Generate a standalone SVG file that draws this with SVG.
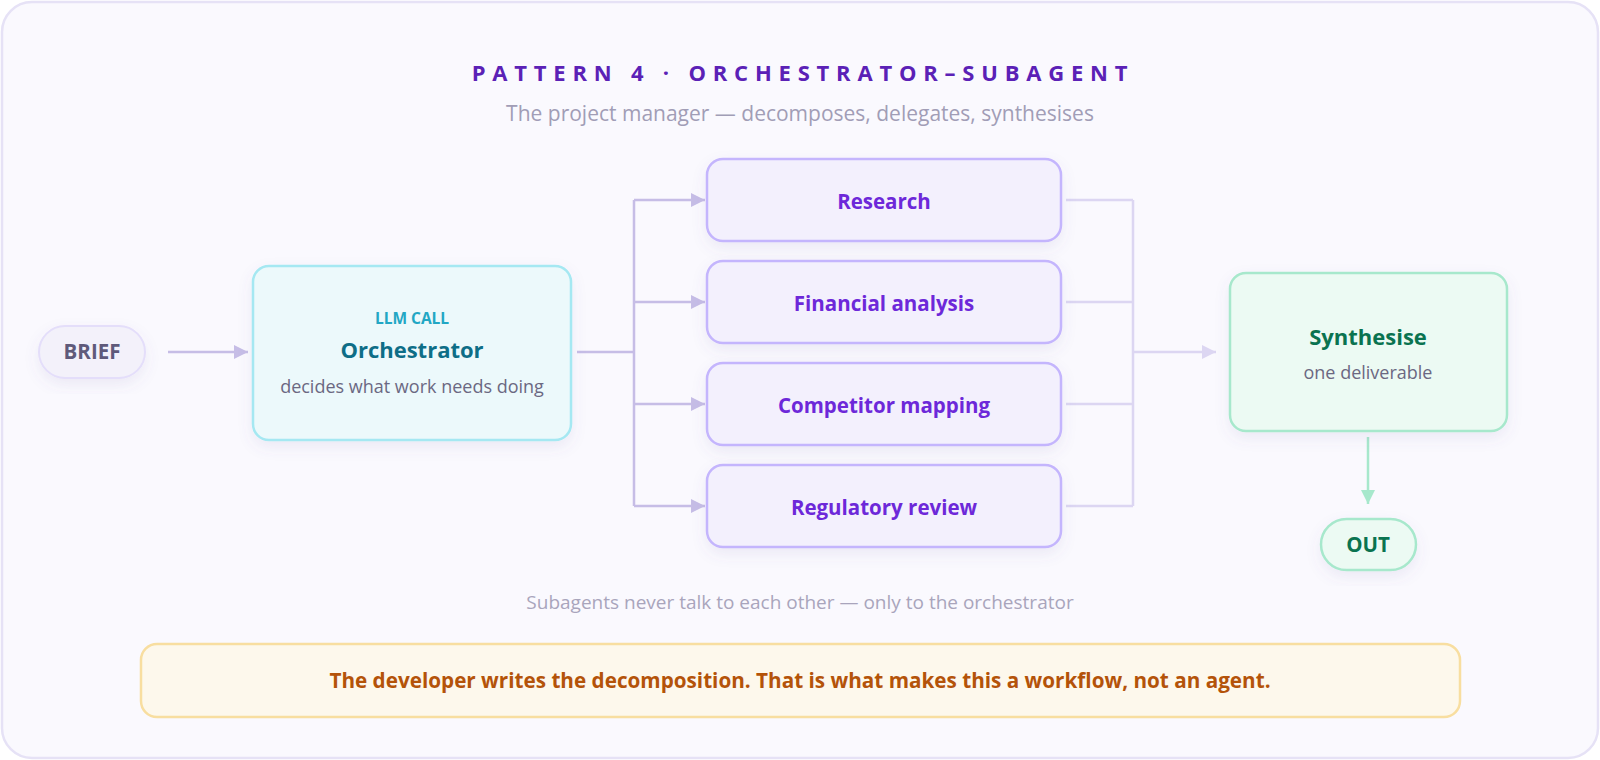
<svg xmlns="http://www.w3.org/2000/svg" width="1600" height="760" viewBox="0 0 1600 760">
  <defs>
    <style>
      text { font-family: "Open Sans", "Noto Sans", "DejaVu Sans", sans-serif; text-anchor: middle; }
      .title { font-size: 22px; font-weight: 700; fill: #5b21b6; letter-spacing: 6.8px; }
      .subtitle { font-size: 21px; fill: #a19db6; }
      .caption { font-size: 19px; fill: #a9a5bc; }
      .pill-brief { fill: #f3f1fa; stroke: #e4defa; stroke-width: 2; }
      .pill-out { fill: #ecfaf3; stroke: #a7e8cc; stroke-width: 2.5; }
      .orch { fill: #ecf9fb; stroke: #a5e8f2; stroke-width: 2.5; }
      .sub { fill: #f3f0fd; stroke: #c4b5fd; stroke-width: 2.5; }
      .synth { fill: #ecfaf3; stroke: #a7e8cc; stroke-width: 2.5; }
      .note { fill: #fdf8ec; stroke: #f8dea0; stroke-width: 2.5; }
      .t-brief { font-size: 20.5px; font-weight: 700; fill: #5f5a7a; }
      .t-out { font-size: 20.5px; font-weight: 700; fill: #0a7350; }
      .t-kicker { font-size: 15.5px; font-weight: 700; fill: #22a7c4; }
      .t-orch { font-size: 22px; font-weight: 700; fill: #0e6e87; }
      .t-synth { font-size: 22px; font-weight: 700; fill: #0a7350; }
      .t-desc { font-size: 18px; fill: #6b6882; }
      .t-sub { font-size: 20.5px; font-weight: 700; fill: #6d28d9; }
      .t-note { font-size: 20.7px; font-weight: 700; fill: #b45309; }
      .c-in { fill: none; stroke: #c6bde6; stroke-width: 2.5; }
      .c-out { fill: none; stroke: #dcd6f2; stroke-width: 2.5; }
      .c-green { fill: none; stroke: #a7e8cc; stroke-width: 2.5; }
    </style>
    <filter id="shadow" x="-20%" y="-20%" width="140%" height="150%">
      <feDropShadow dx="0" dy="6" stdDeviation="7" flood-color="#6b5fa8" flood-opacity="0.10"/>
    </filter>
    <marker id="arrIn" viewBox="0 0 10 10" refX="10" refY="5" markerWidth="14" markerHeight="14" markerUnits="userSpaceOnUse" orient="auto">
      <path d="M0,0 L10,5 L0,10 z" fill="#c6bde6"/>
    </marker>
    <marker id="arrOut" viewBox="0 0 10 10" refX="10" refY="5" markerWidth="14" markerHeight="14" markerUnits="userSpaceOnUse" orient="auto">
      <path d="M0,0 L10,5 L0,10 z" fill="#dcd6f2"/>
    </marker>
    <marker id="arrGreen" viewBox="0 0 10 10" refX="10" refY="5" markerWidth="14" markerHeight="14" markerUnits="userSpaceOnUse" orient="auto">
      <path d="M0,0 L10,5 L0,10 z" fill="#a7e8cc"/>
    </marker>
  </defs>

  <rect x="2" y="2" width="1596" height="756" rx="30" fill="#faf9fe" stroke="#e6e2f6" stroke-width="2.5"/>

  <text class="title" x="803" y="81">PATTERN 4 · ORCHESTRATOR–SUBAGENT</text>
  <text class="subtitle" x="800" y="121">The project manager — decomposes, delegates, synthesises</text>

  <g id="connectors">
    <line class="c-in" x1="168" y1="352" x2="248" y2="352" marker-end="url(#arrIn)"/>
    <path class="c-in" d="M577,352 H634"/>
    <path class="c-in" d="M634,200 V506"/>
    <line class="c-in" x1="634" y1="200" x2="705" y2="200" marker-end="url(#arrIn)"/>
    <line class="c-in" x1="634" y1="302" x2="705" y2="302" marker-end="url(#arrIn)"/>
    <line class="c-in" x1="634" y1="404" x2="705" y2="404" marker-end="url(#arrIn)"/>
    <line class="c-in" x1="634" y1="506" x2="705" y2="506" marker-end="url(#arrIn)"/>
    <path class="c-out" d="M1066,200 H1133 M1066,302 H1133 M1066,404 H1133 M1066,506 H1133 M1133,200 V506"/>
    <line class="c-out" x1="1133" y1="352" x2="1216" y2="352" marker-end="url(#arrOut)"/>
    <line class="c-green" x1="1368" y1="437" x2="1368" y2="504" marker-end="url(#arrGreen)"/>
  </g>

  <g id="brief">
    <rect class="pill-brief" x="39" y="326" width="106" height="52" rx="26" filter="url(#shadow)"/>
    <text class="t-brief" x="92" y="359">BRIEF</text>
  </g>

  <g id="orchestrator">
    <rect class="orch" x="253" y="266" width="318" height="174" rx="16" filter="url(#shadow)"/>
    <text class="t-kicker" x="412" y="324">LLM CALL</text>
    <text class="t-orch" x="412" y="358">Orchestrator</text>
    <text class="t-desc" x="412" y="393">decides what work needs doing</text>
  </g>

  <g id="research">
    <rect class="sub" x="707" y="159" width="354" height="82" rx="16" filter="url(#shadow)"/>
    <text class="t-sub" x="884" y="209">Research</text>
  </g>
  <g id="financial">
    <rect class="sub" x="707" y="261" width="354" height="82" rx="16" filter="url(#shadow)"/>
    <text class="t-sub" x="884" y="311">Financial analysis</text>
  </g>
  <g id="competitor">
    <rect class="sub" x="707" y="363" width="354" height="82" rx="16" filter="url(#shadow)"/>
    <text class="t-sub" x="884" y="413">Competitor mapping</text>
  </g>
  <g id="regulatory">
    <rect class="sub" x="707" y="465" width="354" height="82" rx="16" filter="url(#shadow)"/>
    <text class="t-sub" x="884" y="515">Regulatory review</text>
  </g>

  <g id="synthesise">
    <rect class="synth" x="1230" y="273" width="277" height="158" rx="16" filter="url(#shadow)"/>
    <text class="t-synth" x="1368" y="345">Synthesise</text>
    <text class="t-desc" x="1368" y="379">one deliverable</text>
  </g>

  <g id="out">
    <rect class="pill-out" x="1321" y="519" width="95" height="51" rx="25.5" filter="url(#shadow)"/>
    <text class="t-out" x="1368" y="552">OUT</text>
  </g>

  <text class="caption" x="800" y="609">Subagents never talk to each other — only to the orchestrator</text>

  <g id="note">
    <rect class="note" x="141" y="644" width="1319" height="73" rx="16"/>
    <text class="t-note" x="800" y="688">The developer writes the decomposition. That is what makes this a workflow, not an agent.</text>
  </g>
</svg>
